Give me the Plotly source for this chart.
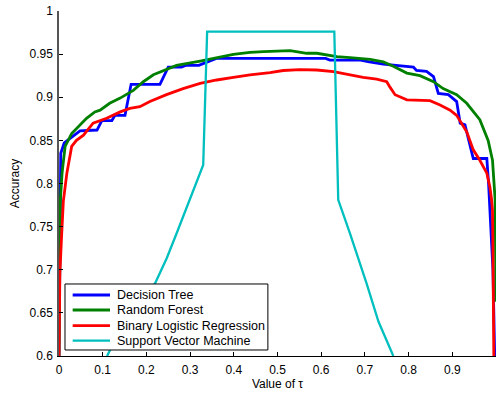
import plotly.graph_objects as go

# Decision Tree
dt_x = [0.0, 0.004, 0.012, 0.032, 0.048, 0.087, 0.098, 0.121, 0.128, 0.151, 0.165, 0.231, 0.25, 0.28, 0.29, 0.32,
        0.348, 0.36, 0.45, 0.55, 0.61, 0.62, 0.69, 0.71, 0.742, 0.811, 0.818, 0.841, 0.857, 0.868, 0.891, 0.910,
        0.918, 0.929, 0.948, 0.979, 0.983, 0.988, 0.993, 0.997]
dt_y = [0.60, 0.835, 0.847, 0.855, 0.861, 0.862, 0.873, 0.873, 0.879, 0.879, 0.915, 0.915, 0.935, 0.935, 0.937, 0.937,
        0.943, 0.945, 0.945, 0.945, 0.945, 0.943, 0.943, 0.941, 0.9385, 0.935, 0.931, 0.930, 0.924, 0.9045, 0.903, 0.895,
        0.870, 0.868, 0.829, 0.829, 0.80, 0.75, 0.70, 0.60]

# Random Forest
rf_x = [0.0, 0.003, 0.007, 0.014, 0.029, 0.044, 0.063, 0.082, 0.094, 0.116, 0.14, 0.17, 0.193, 0.216, 0.246, 0.269,
        0.323, 0.361, 0.399, 0.437, 0.468, 0.529, 0.567, 0.59, 0.636, 0.666, 0.712, 0.742, 0.765, 0.796, 0.826,
        0.857, 0.879, 0.910, 0.933, 0.963, 0.982, 0.992, 0.998, 1.0]
rf_y = [0.60, 0.78, 0.812, 0.843, 0.858, 0.866, 0.8756, 0.883, 0.885, 0.893, 0.899, 0.908, 0.918, 0.926, 0.932, 0.937,
        0.942, 0.9463, 0.9498, 0.952, 0.953, 0.954, 0.951, 0.951, 0.947, 0.946, 0.944, 0.941, 0.936, 0.928, 0.925,
        0.918, 0.910, 0.903, 0.893, 0.874, 0.850, 0.827, 0.781, 0.663]

# Binary Logistic Regression
blr_x = [0.0, 0.002, 0.006, 0.010, 0.018, 0.029, 0.040, 0.056, 0.078, 0.109, 0.14, 0.162, 0.185, 0.208, 0.246, 0.284,
         0.323, 0.361, 0.399, 0.437, 0.483, 0.513, 0.551, 0.59, 0.628, 0.666, 0.696, 0.727, 0.75, 0.757, 0.769,
         0.796, 0.849, 0.872, 0.895, 0.910, 0.925, 0.933, 0.948, 0.963, 0.979, 0.986, 0.990, 0.992, 0.993, 0.995]
blr_y = [0.60, 0.696, 0.74, 0.78, 0.812, 0.843, 0.850, 0.856, 0.870, 0.8756, 0.883, 0.887, 0.889, 0.895, 0.903, 0.910,
         0.916, 0.920, 0.923, 0.926, 0.9285, 0.931, 0.932, 0.9316, 0.9296, 0.926, 0.923, 0.921, 0.918, 0.912, 0.903,
         0.897, 0.896, 0.891, 0.885, 0.879, 0.866, 0.860, 0.839, 0.827, 0.812, 0.796, 0.781, 0.769, 0.723, 0.60]

# Support Vector Machine
svm_x = [0.110, 0.1625, 0.2197, 0.2465, 0.269, 0.2998, 0.330, 0.339, 0.630, 0.639, 0.666, 0.704, 0.731, 0.765]
svm_y = [0.60, 0.6533, 0.684, 0.7133, 0.742, 0.781, 0.8214, 0.976, 0.976, 0.781, 0.742, 0.684, 0.64, 0.60]

series_names = ["Decision Tree", "Random Forest", "Binary Logistic Regression", "Support Vector Machine"]
series_colors = ["#0000FF", "#008000", "#FF0000", "#00BFBF"]
series_widths = [2.8, 2.8, 2.8, 2.3]

x_ticks = [0, 0.1, 0.2, 0.3, 0.4, 0.5, 0.6, 0.7, 0.8, 0.9, 1]
x_labels = ["0", "0.1", "0.2", "0.3", "0.4", "0.5", "0.6", "0.7", "0.8", "0.9", "1"]
y_ticks = [0.6, 0.65, 0.7, 0.75, 0.8, 0.85, 0.9, 0.95, 1]
y_labels = ["0.6", "0.65", "0.7", "0.75", "0.8", "0.85", "0.9", "0.95", "1"]

FONT = "Liberation Sans, Arial, Helvetica, sans-serif"

fig = go.Figure()
for xs, ys, name, col, w in zip([dt_x, rf_x, blr_x, svm_x], [dt_y, rf_y, blr_y, svm_y],
                                series_names, series_colors, series_widths):
    fig.add_trace(go.Scatter(x=xs, y=ys, mode="lines", name=name,
                             line=dict(color=col, width=w), showlegend=False))

# Manual legend (MATLAB-style compact box)
leg_x0, leg_x1 = 0.0137, 0.478
leg_y0, leg_y1 = 0.0174, 0.2087
line_x0, line_x1 = 0.0313, 0.1167
text_x = 0.1275
row_y = [0.1768, 0.1333, 0.0878, 0.0443]

shapes = [dict(type="rect", xref="paper", yref="paper", x0=leg_x0, x1=leg_x1, y0=leg_y0, y1=leg_y1,
               line=dict(color="black", width=1), fillcolor="white", layer="above")]
annotations = []
for name, col, w, yy in zip(series_names, series_colors, series_widths, row_y):
    shapes.append(dict(type="line", xref="paper", yref="paper", x0=line_x0, x1=line_x1, y0=yy, y1=yy,
                       line=dict(color=col, width=w), layer="above"))
    annotations.append(dict(text=name, xref="paper", yref="paper", x=text_x, y=yy,
                            xanchor="left", yanchor="middle", showarrow=False,
                            font=dict(family=FONT, size=12.5, color="black")))

fig.update_layout(
    width=499, height=394,
    margin=dict(l=59, r=3, t=11, b=38),
    paper_bgcolor="white", plot_bgcolor="white",
    font=dict(family=FONT, size=12, color="black"),
    showlegend=False,
    shapes=shapes,
    annotations=annotations,
    xaxis=dict(range=[0, 1], tickvals=x_ticks, ticktext=x_labels, ticks="inside", ticklen=4,
               tickcolor="black", showline=True, linecolor="black", linewidth=1, mirror=False,
               showgrid=False, zeroline=False, ticklabelstandoff=3,
               title=dict(text="Value of τ", font=dict(family=FONT, size=12), standoff=0)),
    yaxis=dict(range=[0.6, 1], tickvals=y_ticks, ticktext=y_labels, ticks="inside", ticklen=4,
               tickcolor="black", showline=True, linecolor="#555555", linewidth=1.5, mirror=False,
               showgrid=False, zeroline=False, ticklabelstandoff=2,
               title=dict(text="Accuracy", font=dict(family=FONT, size=12), standoff=7)),
)

fig.write_html("out.html")
